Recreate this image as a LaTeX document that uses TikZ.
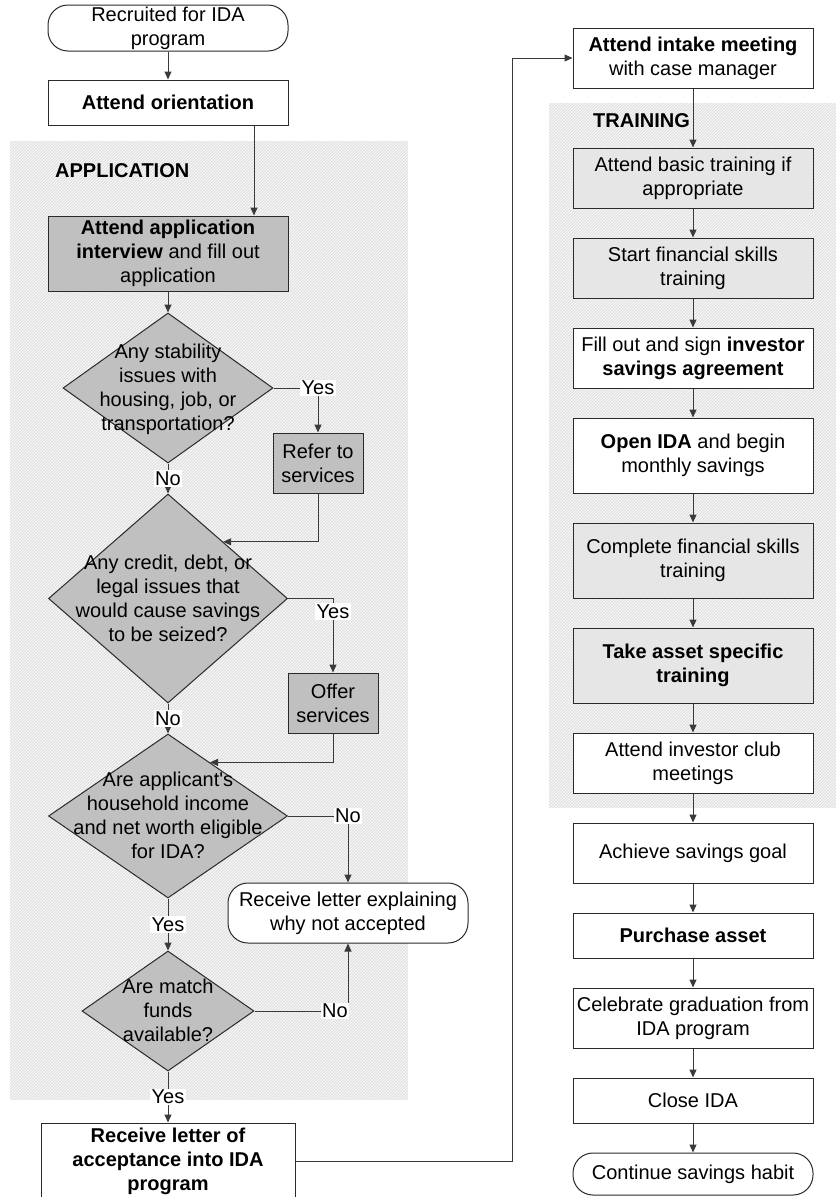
\documentclass[tikz,border=0pt]{standalone}
\usepackage{fontspec}
\setmainfont{Liberation Sans}[Ligatures=TeXOff]
\usetikzlibrary{shapes.geometric,arrows.meta,calc,patterns}
\definecolor{darkfill}{HTML}{C0C0C0}
\definecolor{lightfill}{HTML}{E6E6E6}
\definecolor{bgfill}{HTML}{E2E2E2}
\definecolor{bordercol}{HTML}{2A2A2A}
\definecolor{conncol}{HTML}{3A3A3A}
\begin{document}
\begin{tikzpicture}[x=1pt,y=-1pt,
  font=\fontsize{20}{24}\selectfont,
  box/.style={draw=bordercol, line width=1pt, rectangle, minimum width=240, minimum height=60, inner sep=0pt, align=center, fill=white},
  darkbox/.style={box, fill=darkfill},
  lightbox/.style={box, fill=lightfill},
  term/.style={box, rounded corners=20pt},
  dia/.style={draw=bordercol, line width=1pt, diamond, fill=darkfill, inner sep=0pt},
  diatext/.style={align=center, inner sep=0pt},
  lbl/.style={fill=white, inner sep=1.5pt},
  arr/.style={draw=conncol, line width=1pt, -{Triangle[length=8pt,width=7pt]}},
  region/.style={fill=bgfill, postaction={pattern=north east lines, pattern color=white}},
  sect/.style={font=\fontsize{20}{24}\selectfont\bfseries, anchor=west, inner sep=0pt}]
\useasboundingbox (0,0) rectangle (836,1197);

% shaded regions
\path[region] (10,141) rectangle (408,1100);
\path[region] (549,103) rectangle (836,808);
\node[sect] (apptitle) at (55,171) {APPLICATION};
\node[sect] (traintitle) at (593,121) {TRAINING};

% left column
\node[term, minimum height=46] (start) at (168,28) {Recruited for IDA\\program};
\node[box, minimum height=45] (orient) at (168,102.5) {\textbf{Attend orientation}};
\node[darkbox, minimum height=75] (app) at (168,253.5) {\textbf{Attend application}\\\textbf{interview} and fill out\\application};

\node[dia, minimum width=210, minimum height=150] (d1) at (168,388) {};
\node[diatext] (d1t) at (168,389) {Any stability\\issues with\\housing, job, or\\transportation?};
\node[darkbox, minimum width=90, minimum height=60] (refer) at (318,463) {Refer to\\services};

\node[dia, minimum width=239, minimum height=209] (d2) at (168,598.5) {};
\node[diatext] (d2t) at (168,598.5) {Any credit, debt, or\\legal issues that\\would cause savings\\to be seized?};
\node[darkbox, minimum width=90, minimum height=60] (offer) at (333,703) {Offer\\services};

\node[dia, minimum width=239, minimum height=164] (d3) at (168,816) {};
\node[diatext] (d3t) at (168,815) {Are applicant's\\household income\\and net worth eligible\\for IDA?};
\node[term, minimum height=60] (reject) at (348,913) {Receive letter explaining\\why not accepted};

\node[dia, minimum width=172, minimum height=120] (d4) at (168,1011) {};
\node[diatext] (d4t) at (168,1010.5) {Are match\\funds\\available?};

\node[box, minimum width=254, minimum height=76] (accept) at (168,1161) {\textbf{Receive letter of}\\\textbf{acceptance into IDA}\\\textbf{program}};

% right column
\node[box] (intake) at (693,58) {\textbf{Attend intake meeting}\\with case manager};
\node[lightbox] (basic) at (693,178) {Attend basic training if\\appropriate};
\node[lightbox] (startfin) at (693,268) {Start financial skills\\training};
\node[box] (fillout) at (693,358) {Fill out and sign \textbf{investor}\\\textbf{savings agreement}};
\node[box, minimum height=75] (openida) at (693,455.5) {\textbf{Open IDA} and begin\\monthly savings};
\node[lightbox, minimum height=75] (complete) at (693,560.5) {Complete financial skills\\training};
\node[lightbox, minimum height=75] (take) at (693,665.5) {\textbf{Take asset specific}\\\textbf{training}};
\node[box] (club) at (693,763) {Attend investor club\\meetings};
\node[box] (achieve) at (693,853) {Achieve savings goal};
\node[box, minimum height=45] (purchase) at (693,935.5) {\textbf{Purchase asset}};
\node[box] (celebrate) at (693,1018) {Celebrate graduation from\\IDA program};
\node[box, minimum height=45] (close) at (693,1100.5) {Close IDA};
\node[term, minimum height=42] (cont) at (693,1174) {Continue savings habit};

% connectors, left
\draw[arr] (start) -- (orient);
\draw[arr] ([xshift=86]orient.south) -- ([xshift=86]app.north);
\draw[arr] (app) -- (d1);
\draw[arr] (d1.east) -| node[lbl, pos=0.5] {Yes} (refer.north);
\draw[arr] (d1.south) -- node[lbl] {No} (d2.north);
\draw[arr] (refer.south) |- ($(d2.north)!0.46!(d2.east)$);
\draw[arr] (d2.east) -| node[lbl, pos=0.59] {Yes} (offer.north);
\draw[arr] (d2.south) -- node[lbl] {No} (d3.north);
\draw[arr] (offer.south) |- ($(d3.north)!0.35!(d3.east)$);
\draw[arr] (d3.east) -| node[lbl, pos=0.5] {No} (reject.north);
\draw[arr] (d3.south) -- node[lbl] {Yes} (d4.north);
\draw[arr] (d4.east) -| node[lbl, pos=0.43] {No} (reject.south);
\draw[arr] (d4.south) -- node[lbl] {Yes} (accept.north);
\draw[arr] (accept.east) -| ([xshift=-60]intake.west) -- (intake.west);

% connectors, right
\draw[arr] (intake) -- (basic);
\draw[arr] (basic) -- (startfin);
\draw[arr] (startfin) -- (fillout);
\draw[arr] (fillout) -- (openida);
\draw[arr] (openida) -- (complete);
\draw[arr] (complete) -- (take);
\draw[arr] (take) -- (club);
\draw[arr] (club) -- (achieve);
\draw[arr] (achieve) -- (purchase);
\draw[arr] (purchase) -- (celebrate);
\draw[arr] (celebrate) -- (close);
\draw[arr] (close) -- (cont);
\end{tikzpicture}
\end{document}
